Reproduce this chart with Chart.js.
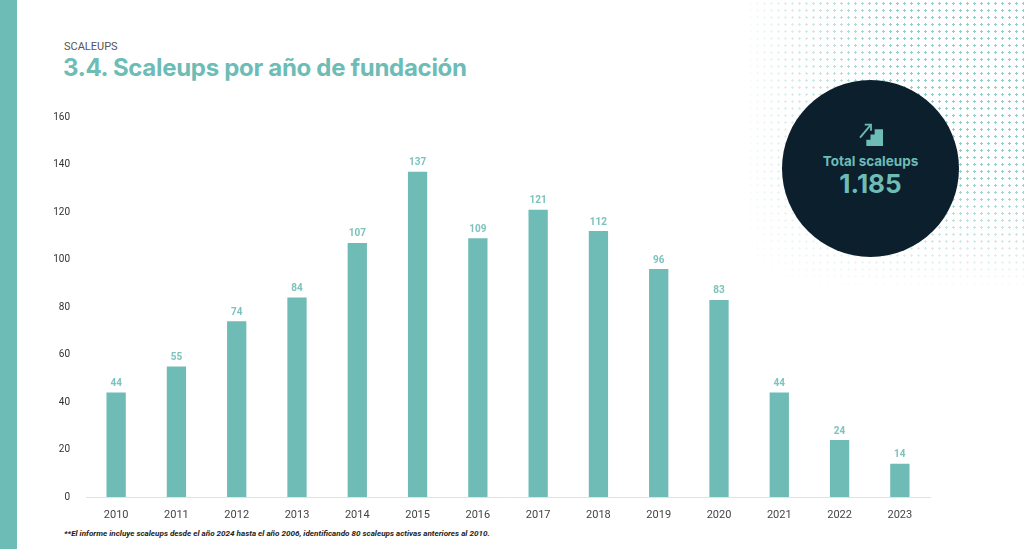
<!DOCTYPE html>
<html>
<head>
<meta charset="utf-8">
<script src="https://cdn.jsdelivr.net/npm/chart.js@4"></script>
<style>
  body { margin: 0; width: 1024px; height: 549px; background: #fff; position: relative; overflow: hidden; font-family: Roboto, sans-serif; }
  #stripe { position: absolute; left: 0; top: 0; width: 17px; height: 549px; background: #6dbcb6; }
  #dots { position: absolute; left: 740px; top: 0; width: 284px; height: 290px;
    background-image: radial-gradient(circle, #8fcfc7 1px, transparent 1.4px);
    background-size: 7px 7px;
    -webkit-mask-image: linear-gradient(to right, transparent 0%, #000 55%), linear-gradient(to bottom, #000 60%, transparent 100%);
    -webkit-mask-composite: source-in; mask-composite: intersect; }
  #kicker { position: absolute; left: 64px; top: 40px; font-size: 11px; color: #555; }
  #title { position: absolute; left: 63px; top: 53px; font-family: Inter, sans-serif; font-weight: 700; font-size: 24px; color: #6dbcb6; letter-spacing: -0.3px; }
  #circle { position: absolute; left: 782px; top: 80px; width: 177px; height: 177px; border-radius: 50%; background: #0b1f2d; text-align: center; color: #6dbcb6; font-family: Inter, sans-serif; font-weight: 700; }
  #circle svg { position: absolute; left: 77px; top: 42px; }
  #circle .lbl { position: absolute; left: 0; width: 100%; top: 73px; font-size: 13.5px; }
  #circle .num { position: absolute; left: 0; width: 100%; top: 88px; font-size: 26px; }
  #note { position: absolute; left: 64px; top: 528px; font-size: 8.1px; font-weight: 700; font-style: italic; color: #222; }
  #wrap { position: absolute; left: 50px; top: 100px; width: 890px; height: 422px; }
</style>
</head>
<body>
<div id="stripe"></div>
<div id="dots"></div>
<div id="kicker">SCALEUPS</div>
<div id="title">3.4. Scaleups por año de fundación</div>
<div id="circle">
  <svg width="24" height="24" viewBox="0 0 23 23">
    <path d="M7 23 V17 H11 V12 H15 V7 H23 V23 Z" fill="#6dbcb6"/>
    <path d="M1 15 L11 3" stroke="#6dbcb6" stroke-width="1.7" fill="none"/>
    <path d="M5.5 2.5 H11.5 V8.5" stroke="#6dbcb6" stroke-width="1.7" fill="none"/>
  </svg>
  <div class="lbl">Total scaleups</div>
  <div class="num">1.185</div>
</div>
<div id="wrap"><canvas id="chart"></canvas></div>
<div id="note">**El informe incluye scaleups desde el año 2024 hasta el año 2006, identificando 80 scaleups activas anteriores al 2010.</div>
<script>
var years = ["2010", "2011", "2012", "2013", "2014", "2015", "2016", "2017", "2018", "2019", "2020", "2021", "2022", "2023"];
var scaleups = [44, 55, 74, 84, 107, 137, 109, 121, 112, 96, 83, 44, 24, 14];
var yTicks = [0, 20, 40, 60, 80, 100, 120, 140, 160];

// value labels above each bar
var barLabels = {
    id: 'barLabels',
    afterDatasetsDraw: function(chart) {
        var ctx = chart.ctx;
        var meta = chart.getDatasetMeta(0);
        ctx.save();
        ctx.font = 'bold 10px Roboto';
        ctx.fillStyle = '#7cc3bd';
        ctx.textAlign = 'center';
        ctx.textBaseline = 'bottom';
        meta.data.forEach(function(bar, i) {
            ctx.fillText(chart.data.datasets[0].data[i], bar.x, bar.y - 4);
        });
        ctx.restore();
    }
};

var ctx = document.getElementById('chart').getContext('2d');
var chart = new Chart(ctx, {
    type: 'bar',
    data: {
        labels: years,
        datasets: [{
            data: scaleups,
            backgroundColor: '#6fbbb5',
            borderWidth: 0,
            barPercentage: 0.32,
            categoryPercentage: 1
        }]
    },
    options: {
        responsive: true,
        maintainAspectRatio: false,
        animation: false,
        layout: { padding: { top: 17, right: 10, bottom: 0, left: 0 } },
        plugins: { legend: { display: false }, tooltip: { enabled: false } },
        scales: {
            x: {
                grid: { display: false },
                border: { display: true, color: '#e2e2e2', width: 1 },
                ticks: { color: '#444', font: { family: 'Roboto', size: 11 }, padding: 4 },
                afterFit: function(axis) { axis.height = 25; }
            },
            y: {
                min: 0,
                max: 160,
                afterBuildTicks: function(axis) { axis.ticks = yTicks.map(function(v) { return { value: v }; }); },
                grid: { display: false },
                border: { display: false },
                ticks: { color: '#333', font: { family: 'Roboto', size: 10 }, padding: 8 },
                afterFit: function(axis) { axis.width = 36; }
            }
        }
    },
    plugins: [barLabels]
});
</script>
</body>
</html>
